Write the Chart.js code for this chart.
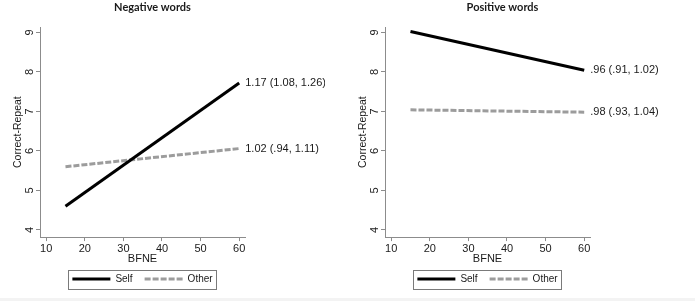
<!DOCTYPE html>
<html>
<head>
<meta charset="utf-8">
<script src="https://cdn.jsdelivr.net/npm/chart.js@4.4.1/dist/chart.umd.min.js"></script>
<style>
    html, body { margin: 0; padding: 0; background: #f3f3f3; }
    #wrap { position: relative; width: 695px; height: 298px; background: #fff; overflow: hidden; }
    .panel { position: absolute; top: 0; width: 345px; height: 298px; }
    #negPanel { left: -20px; }
    #posPanel { left: 330px; }
</style>
</head>
<body>
<div id="wrap">
    <div class="panel" id="negPanel"><canvas id="negChart" width="345" height="298"></canvas></div>
    <div class="panel" id="posPanel"><canvas id="posChart" width="345" height="298"></canvas></div>
</div>
<script>
// ---- data ----
const bfne = [15, 60];
const seriesNames = ['Self', 'Other'];
const negSelf = [4.6, 7.72];
const negOther = [5.6, 6.06];
const posSelf = [9.02, 8.04];
const posOther = [7.04, 6.98];
const negEndLabels = ['1.17 (1.08, 1.26)', '1.02 (.94, 1.11)'];
const posEndLabels = ['.96 (.91, 1.02)', '.98 (.93, 1.04)'];
const xTicks = [10, 20, 30, 40, 50, 60];
const yTicks = [4, 5, 6, 7, 8, 9];

const axisGray = '#8c8c8c';
const textColor = '#1a1a1a';
const sansFont = '"Liberation Sans", Arial, sans-serif';

// text at the right end of each line
const endLabels = {
    id: 'endLabels',
    afterDatasetsDraw(chart, args, opts) {
        const ctx = chart.ctx;
        ctx.save();
        ctx.font = '11px ' + sansFont;
        ctx.fillStyle = textColor;
        ctx.textAlign = 'left';
        ctx.textBaseline = 'middle';
        chart.data.datasets.forEach((ds, i) => {
            const pts = chart.getDatasetMeta(i).data;
            const last = pts[pts.length - 1];
            ctx.fillText(opts.labels[i], last.x + 6, last.y);
        });
        ctx.restore();
    }
};

// thin box round the legend, Stata style
const legendFrame = {
    id: 'legendFrame',
    afterDraw(chart) {
        const boxes = chart.legend && chart.legend.legendHitBoxes;
        if (!boxes || !boxes.length) return;
        const left = Math.min(...boxes.map(b => b.left)) - 4;
        const right = Math.max(...boxes.map(b => b.left + b.width)) + 4;
        const top = Math.min(...boxes.map(b => b.top)) - 4;
        const bottom = Math.max(...boxes.map(b => b.top + b.height)) + 5;
        const ctx = chart.ctx;
        ctx.save();
        ctx.strokeStyle = '#7a7a7a';
        ctx.lineWidth = 1;
        ctx.strokeRect(Math.round(left) + 0.5, Math.round(top) + 0.5, Math.round(right - left), Math.round(bottom - top));
        ctx.restore();
    }
};

// legend lines keep the dataset's dash and width
function legendItems(chart) {
    return Chart.defaults.plugins.legend.labels.generateLabels(chart).map(item => {
        const ds = chart.data.datasets[item.datasetIndex];
        item.lineDash = ds.borderDash || [];
        item.lineWidth = ds.borderWidth;
        item.strokeStyle = ds.borderColor;
        return item;
    });
}

// axisLeft = canvas-local x of the y axis, rightSpace = room kept for end labels
function makeChart(id, title, selfVals, otherVals, labels, axisLeft, rightSpace) {
    const ctx = document.getElementById(id);
    return new Chart(ctx, {
        type: 'line',
        data: {
            datasets: [{
                label: seriesNames[0],
                data: bfne.map((x, i) => ({ x: x, y: selfVals[i] })),
                borderColor: '#000',
                backgroundColor: '#000',
                borderWidth: 3,
                pointRadius: 0,
            }, {
                label: seriesNames[1],
                data: bfne.map((x, i) => ({ x: x, y: otherVals[i] })),
                borderColor: '#9c9c9c',
                backgroundColor: '#9c9c9c',
                borderWidth: 3,
                borderDash: [6, 2],
                pointRadius: 0,
            }]
        },
        options: {
            responsive: false,
            animation: false,
            layout: { padding: { left: 0, right: 0, top: 0, bottom: 4 } },
            plugins: {
                title: {
                    display: true,
                    text: title,
                    color: textColor,
                    font: { family: 'Lato', size: 11, weight: 'bold' },
                    padding: { top: 1, bottom: 13 }
                },
                legend: {
                    display: true,
                    position: 'bottom',
                    fullSize: false,
                    labels: {
                        usePointStyle: true,
                        pointStyle: 'line',
                        pointStyleWidth: 38,
                        color: textColor,
                        font: { family: sansFont, size: 10 },
                        padding: 12,
                        generateLabels: legendItems
                    }
                },
                tooltip: { enabled: false },
                endLabels: { labels: labels }
            },
            scales: {
                x: {
                    type: 'linear',
                    min: 8.4,
                    max: 61.5,
                    afterBuildTicks: s => { s.ticks = xTicks.map(v => ({ value: v })); },
                    ticks: { color: textColor, font: { family: sansFont, size: 11 }, padding: 1, maxRotation: 0 },
                    grid: { drawOnChartArea: false, tickLength: 4, color: axisGray },
                    border: { color: axisGray },
                    title: { display: true, text: 'BFNE', color: textColor, font: { family: sansFont, size: 11 }, padding: { top: -4, bottom: -3.5 } }
                },
                y: {
                    type: 'linear',
                    min: 3.82,
                    max: 9.13,
                    afterBuildTicks: s => { s.ticks = yTicks.map(v => ({ value: v })); },
                    afterFit: s => { s.width = axisLeft; },
                    ticks: { color: textColor, font: { family: sansFont, size: 11 }, minRotation: 90, maxRotation: 90, crossAlign: 'center', padding: 3 },
                    grid: { drawOnChartArea: false, tickLength: 4, color: axisGray },
                    border: { color: axisGray },
                    title: { display: true, text: 'Correct-Repeat', color: textColor, font: { family: sansFont, size: 10.5 }, padding: { top: axisLeft - 28.3, bottom: 0 } }
                },
                // empty axis that keeps room on the right for the end labels
                spare: {
                    type: 'linear',
                    position: 'right',
                    ticks: { display: false },
                    grid: { display: false },
                    border: { display: false },
                    afterFit: s => { s.width = rightSpace; }
                }
            }
        },
        plugins: [endLabels, legendFrame]
    });
}

makeChart('negChart', 'Negative words', negSelf, negOther, negEndLabels, 60, 80);
makeChart('posChart', 'Positive words', posSelf, posOther, posEndLabels, 55, 85);
</script>
</body>
</html>
